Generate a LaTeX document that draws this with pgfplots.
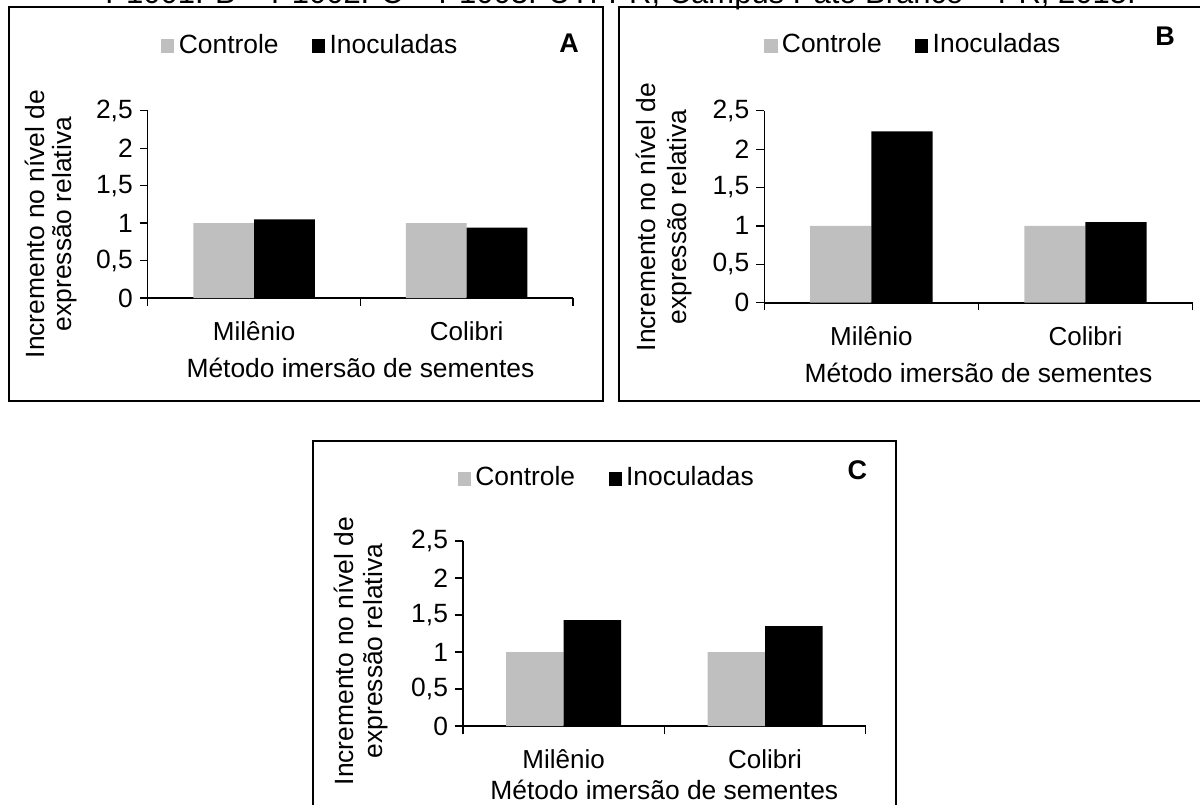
\documentclass[border=0pt]{standalone}
\usepackage{fontspec}
\setmainfont{Liberation Sans}
\usepackage{pgfplots}
\pgfplotsset{compat=1.18}

\definecolor{ctrl}{HTML}{BFBFBF}

\pgfplotsset{
  painel/.style={
    scale only axis,
    anchor=south west,
    ybar,
    ymin=0, ymax=2.5,
    xmin=-0.5, xmax=1.5,
    ytick={0,0.5,1,1.5,2,2.5},
    yticklabels={0,{0,5},1,{1,5},2,{2,5}},
    xtick={0,1},
    xticklabels={Milênio,Colibri},
    minor xtick={-0.5,0.5,1.5},
    axis x line=bottom, axis y line=left,
    axis line style={-},
    x axis line style={line width=0.9pt},
    y axis line style={line width=0.6pt},
    tick align=outside,
    major x tick style={draw=none},
    minor x tick style={black, line width=0.6pt},
    major y tick style={black, line width=0.6pt},
    major tick length=4pt, minor tick length=3.8pt,
    bar width=0.2857,
    font=\fontsize{13.2}{15}\selectfont,
    yticklabel style={font=\fontsize{13.2}{15}\selectfont},
    xticklabel style={anchor=center, yshift=-12.5pt, font=\fontsize{13}{15}\selectfont},
    xlabel={Método imersão de sementes},
    legend columns=2,
    legend style={draw=none, fill=none, anchor=center, inner sep=0pt,
      font=\fontsize{13.2}{15}\selectfont,
      nodes={inner xsep=2.2pt, inner ysep=1.2pt, anchor=base west},
      /tikz/every even column/.append style={column sep=14.5pt}},
    legend image code/.code={\fill[##1] (0pt,0pt) rectangle (6.6pt,7pt);},
  },
  ctrlbar/.style={fill=ctrl, draw=none, bar shift=-0.14285},
  inocbar/.style={fill=black, draw=none, bar shift=0.14285},
}

\begin{document}
\begin{tikzpicture}
\useasboundingbox (0pt,0pt) rectangle (600pt,-402pt);
\clip (0pt,0pt) rectangle (600pt,-402pt);

% legenda da figura (linha superior)
\node[anchor=base west, inner sep=0pt, font=\fontsize{15.5}{18}\selectfont]
  at (52.5pt,-1.5pt) {P1001. B = P1002. C = P1003. UTFPR, Câmpus Pato Branco – PR, 2015.};

% molduras
\draw[line width=1pt] (4.5pt,-3.6pt) rectangle (301.5pt,-200.5pt);
\draw[line width=1pt] (309.5pt,-3.6pt) rectangle (610pt,-200.5pt);
\draw[line width=1pt] (156.5pt,-220.4pt) rectangle (447.75pt,-410pt);

% Painel A
\begin{axis}[painel, at={(73.9pt,-149pt)}, width=212.6pt, height=93.65pt,
  xlabel style={at={(axis description cs:0.5,0)}, anchor=center, yshift=-35pt},
  legend style={at={(axis description cs:0.385,1.351)}}]
\addplot[ctrlbar] coordinates {(0,1) (1,1)};
\addplot[inocbar] coordinates {(0,1.05) (1,0.94)};
\legend{Controle, Inoculadas}
\end{axis}

% Painel B
\begin{axis}[painel, at={(382.15pt,-151.35pt)}, width=214.1pt, height=96pt,
  xlabel style={at={(axis description cs:0.5,0)}, anchor=center, yshift=-35pt},
  legend style={at={(axis description cs:0.351,1.344)}}]
\addplot[ctrlbar] coordinates {(0,1) (1,1)};
\addplot[inocbar] coordinates {(0,2.23) (1,1.05)};
\legend{Controle, Inoculadas}
\end{axis}

% Painel C
\begin{axis}[painel, at={(231.5pt,-363pt)}, width=201.35pt, height=92.5pt,
  xlabel style={at={(axis description cs:0.5,0)}, anchor=center, yshift=-32pt},
  legend style={at={(axis description cs:0.360,1.341)}}]
\addplot[ctrlbar] coordinates {(0,1) (1,1)};
\addplot[inocbar] coordinates {(0,1.43) (1,1.35)};
\legend{Controle, Inoculadas}
\end{axis}

% rótulos do eixo y
\node[rotate=90, align=center, font=\fontsize{13.2}{13.25}\selectfont] at (25.5pt,-112pt)
  {Incremento no nível de\\expressão relativa};
\node[rotate=90, align=center, font=\fontsize{13.2}{15.5}\selectfont] at (331.8pt,-108.5pt)
  {Incremento no nível de\\expressão relativa};
\node[rotate=90, align=center, font=\fontsize{13.2}{14.3}\selectfont] at (180.4pt,-325.5pt)
  {Incremento no nível de\\expressão relativa};

% letras dos painéis
\node[font=\fontsize{13.5}{15}\selectfont\bfseries] at (284.5pt,-21.75pt) {A};
\node[font=\fontsize{13.5}{15}\selectfont\bfseries] at (582.5pt,-18pt) {B};
\node[font=\fontsize{13.5}{15}\selectfont\bfseries] at (428.65pt,-235pt) {C};
\end{tikzpicture}
\end{document}
